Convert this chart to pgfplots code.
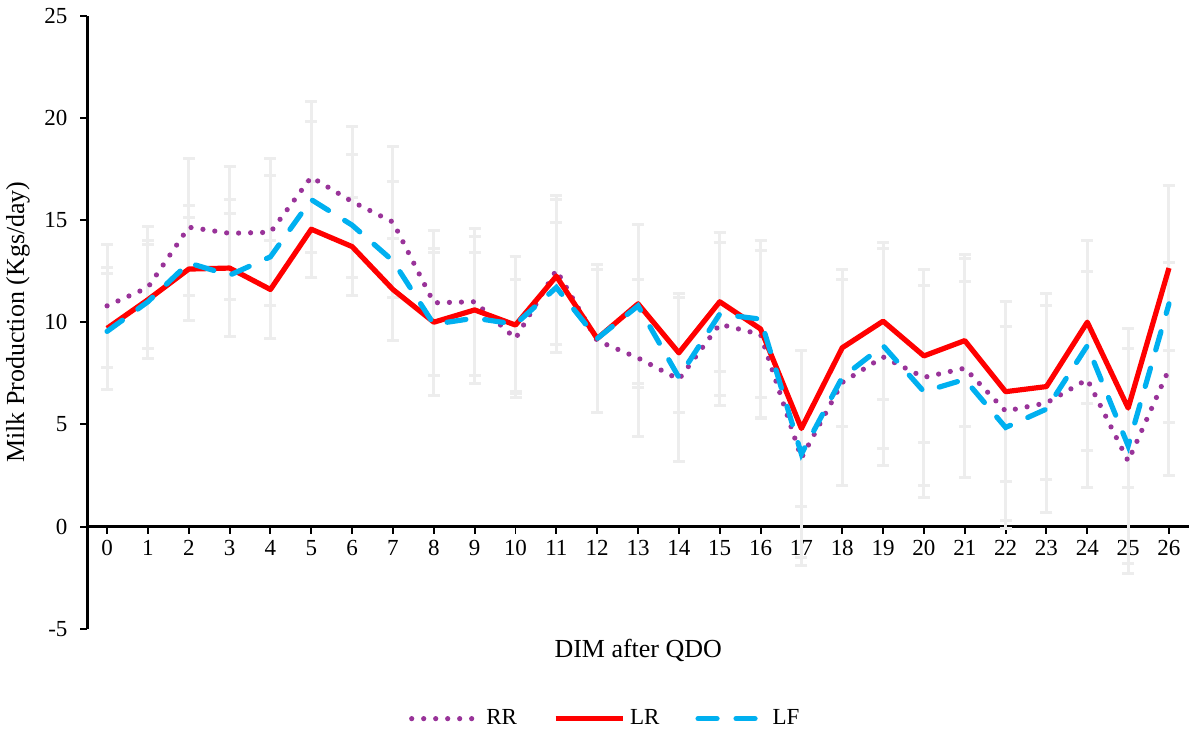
\documentclass[border=0pt]{standalone}
\usepackage{pgfplots}
\usepackage{pgfplotstable}
\pgfplotsset{compat=1.18}
\usepackage{fontspec}
\setmainfont{Liberation Serif}
\definecolor{rrc}{HTML}{993399}
\definecolor{lrc}{HTML}{FF0000}
\definecolor{lfc}{HTML}{00B0F0}
\definecolor{errc}{HTML}{EDEDED}
\pgfplotstableread{
x rr lr lf err elr elf
0 10.8 9.7 9.55 3.0 3.0 2.85
1 11.7 11.1 11.0 3.0 2.9 2.8
2 14.65 12.6 12.9 3.35 2.5 2.8
3 14.35 12.65 12.3 3.25 3.35 3.0
4 14.4 11.6 13.2 3.6 2.4 4.0
5 17.1 14.55 16.0 3.7 2.35 3.8
6 15.9 13.7 14.75 3.7 2.4 3.45
7 14.9 11.6 13.0 3.7 2.5 3.9
8 10.95 10.0 9.9 3.55 3.6 3.5
9 11.0 10.6 10.2 3.6 3.6 3.2
10 9.2 9.86 9.9 2.9 3.34 3.3
11 12.55 12.25 11.7 3.65 3.75 3.2
12 9.1 9.2 9.2 3.5 3.6 3.6
13 8.25 10.9 10.8 3.85 3.9 4.0
14 7.2 8.5 7.3 4.0 2.9 4.1
15 9.9 11.0 10.4 4.0 3.4 4.0
16 9.4 9.67 10.15 4.1 4.33 3.85
17 3.35 4.8 3.55 5.25 3.8 5.05
18 7.05 8.75 7.3 5.05 3.85 5.3
19 8.3 10.05 8.85 5.3 3.85 5.05
20 7.3 8.35 6.6 5.3 4.25 5.2
21 7.75 9.1 7.2 5.35 4.2 4.8
22 5.65 6.6 4.85 5.35 4.4 4.95
23 6.05 6.85 5.75 5.35 4.55 5.05
24 7.2 10.0 8.85 5.3 4.0 5.15
25 3.2 5.8 3.95 5.5 3.9 5.75
26 7.7 12.65 10.9 5.2 4.05 5.8
}\data
\begin{document}
\begin{tikzpicture}
\begin{axis}[
  scale only axis, width=551pt, height=306.65pt,
  xmin=-0.48, xmax=26.49, ymin=-5, ymax=25,
  axis x line*=middle, axis y line*=left,
  hide obscured x ticks=false, hide obscured y ticks=false,
  xtick={0,...,26}, ytick={-5,0,5,10,15,20,25},
  tick align=outside, major tick length=3.5pt,
  every tick/.style={black, line width=1pt},
  axis line style={black, line width=1.1pt},
  /pgf/number format/assume math mode=true,
  ticklabel style={font=\fontsize{11.5}{13}\selectfont},
  yticklabel style={xshift=-3pt},
  label style={font=\fontsize{13}{15}\selectfont},
  xlabel={DIM after QDO},
  xlabel style={at={(axis description cs:0.5,-0.0359)}, anchor=center},
  ylabel={Milk Production (Kgs/day)},
  ylabel style={at={(axis description cs:-0.0631,0.5)}, anchor=center},
  legend style={at={(axis description cs:0.471,-0.1467)}, anchor=center, draw=none, legend columns=3, font=\fontsize{11.5}{13}\selectfont, /tikz/every even column/.append style={column sep=16pt}},
  legend image code/.code={\draw[#1] (0pt,0pt) -- (34pt,0pt);},
  clip=false,
]
\addplot[draw=none, forget plot, error bars/.cd, y dir=both, y explicit,
  error bar style={errc, line width=1.5pt},
  error mark options={rotate=90, mark size=3pt, line width=1.5pt, errc}]
  table[x=x, y=rr, y error=err]{\data};
\addplot[draw=none, forget plot, error bars/.cd, y dir=both, y explicit,
  error bar style={errc, line width=1.5pt},
  error mark options={rotate=90, mark size=3pt, line width=1.5pt, errc}]
  table[x=x, y=lr, y error=elr]{\data};
\addplot[draw=none, forget plot, error bars/.cd, y dir=both, y explicit,
  error bar style={errc, line width=1.5pt},
  error mark options={rotate=90, mark size=3pt, line width=1.5pt, errc}]
  table[x=x, y=lf, y error=elf]{\data};
\addplot[rrc, line width=2.6pt, line cap=round, dash pattern=on 0pt off 6pt, no marks] table[x=x, y=rr]{\data};
\addlegendentry{RR}
\addplot[lrc, line width=2.6pt, line join=round, no marks] table[x=x, y=lr]{\data};
\addlegendentry{LR}
\addplot[lfc, line width=2.6pt, line cap=round, dash pattern=on 9.5pt off 9.5pt, no marks] table[x=x, y=lf]{\data};
\addlegendentry{LF}
\end{axis}
\pgfresetboundingbox
\path ([shift={(-43.75pt,-50.5pt)}]current axis.south west) rectangle ([shift={(0.5pt,7.85pt)}]current axis.north east);
\end{tikzpicture}
\end{document}
